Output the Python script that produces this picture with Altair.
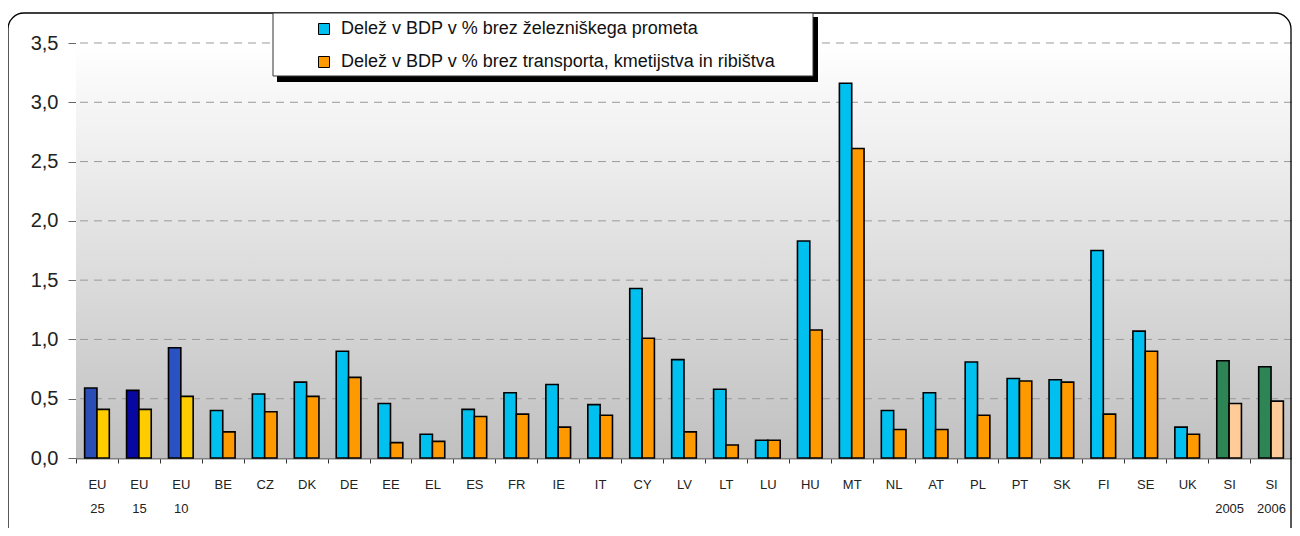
import altair as alt
import pandas as pd

# ---- data ----
categories = ["EU 25", "EU 15", "EU 10", "BE", "CZ", "DK", "DE", "EE", "EL", "ES",
              "FR", "IE", "IT", "CY", "LV", "LT", "LU", "HU", "MT", "NL", "AT",
              "PL", "PT", "SK", "FI", "SE", "UK", "SI 2005", "SI 2006"]
share_no_rail = [0.59, 0.57, 0.93, 0.40, 0.54, 0.64, 0.90, 0.46, 0.20, 0.41,
                 0.55, 0.62, 0.45, 1.43, 0.83, 0.58, 0.15, 1.83, 3.16, 0.40, 0.55,
                 0.81, 0.67, 0.66, 1.75, 1.07, 0.26, 0.82, 0.77]
share_no_transport = [0.41, 0.41, 0.52, 0.22, 0.39, 0.52, 0.68, 0.13, 0.14, 0.35,
                      0.37, 0.26, 0.36, 1.01, 0.22, 0.11, 0.15, 1.08, 2.61, 0.24, 0.24,
                      0.36, 0.65, 0.64, 0.37, 0.90, 0.20, 0.46, 0.48]
series_names = ["Delež v BDP v % brez železniškega prometa",
                "Delež v BDP v %  brez transporta, kmetijstva in ribištva"]
y_ticks = [0.0, 0.5, 1.0, 1.5, 2.0, 2.5, 3.0, 3.5]

color_domain = [series_names[0], series_names[1], "EU 25", "EU 15", "EU 10", "EU b", "SI a", "SI b"]
color_range = ["#00c0f0", "#ff9900", "#2a4db6", "#0808a0", "#2b52c2", "#ffcc00", "#2d8556", "#ffcc99"]


def color_key(cat, idx):
    if cat.startswith("EU"):
        return cat if idx == 0 else "EU b"
    if cat.startswith("SI"):
        return "SI a" if idx == 0 else "SI b"
    return series_names[idx]


rows = []
for c, a, b in zip(categories, share_no_rail, share_no_transport):
    rows.append({"cat": c, "series": series_names[0], "value": a, "key": color_key(c, 0)})
    rows.append({"cat": c, "series": series_names[1], "value": b, "key": color_key(c, 1)})
df = pd.DataFrame(rows)

W, H = 1216, 415
FONT = "Liberation Sans"

yscale = alt.Scale(domain=[0, 3.5], nice=False, zero=True)
yaxis = alt.Axis(values=y_ticks, title=None, grid=False,
                 labelExpr="replace(format(datum.value, '.1f'), '.', ',')",
                 labelFontSize=20, labelFont=FONT, labelColor="#222222", labelPadding=10,
                 tickSize=8, tickColor="#666666", domainColor="#808080", domainWidth=1)

one = pd.DataFrame({"a": [0]})

background = alt.Chart(one).mark_rect(
    color=alt.LinearGradient(gradient="linear", x1=0, x2=0, y1=0, y2=1,
                             stops=[alt.GradientStop(color="#ffffff", offset=0),
                                    alt.GradientStop(color="#c0c0c0", offset=1)])
).encode(x=alt.value(0), x2=alt.value(W), y=alt.value(0), y2=alt.value(H))

grid = alt.Chart(pd.DataFrame({"v": y_ticks[1:]})).mark_rule(
    color="#9a9a9a", strokeDash=[8, 6], strokeWidth=1
).encode(y=alt.Y("v:Q", scale=yscale, axis=yaxis))

bars = alt.Chart(df).mark_bar(stroke="black", strokeWidth=1.6).encode(
    x=alt.X("cat:N", sort=categories, scale=alt.Scale(paddingInner=0, paddingOuter=0),
            axis=alt.Axis(title=None, labelAngle=0, labelExpr="split(datum.label, ' ')",
                          labelFontSize=13, labelFont=FONT, labelColor="#222222",
                          labelLineHeight=24, labelPadding=15, labelOverlap=False,
                          tickBand="extent", tickSize=5, tickColor="#333333",
                          domainColor="#808080", domainWidth=2, grid=False)),
    xOffset=alt.XOffset("series:N", sort=series_names,
                        scale=alt.Scale(paddingOuter=0.7, paddingInner=0)),
    y=alt.Y("value:Q", scale=yscale, axis=yaxis),
    color=alt.Color("key:N", scale=alt.Scale(domain=color_domain, range=color_range),
                    legend=alt.Legend(values=series_names, title=None, orient="none",
                                      legendX=239, legendY=-23, direction="vertical",
                                      symbolType="square", symbolSize=121,
                                      symbolStrokeColor="black", symbolStrokeWidth=1,
                                      labelFontSize=18, labelFont=FONT, labelColor="#111111",
                                      labelLimit=800, rowPadding=15, labelOffset=8,
                                      padding=0)),
)

frame = alt.Chart(one).mark_rect(fill="transparent", stroke="black", strokeWidth=1.3,
                                 cornerRadius=16).encode(
    x=alt.value(-68), x2=alt.value(1215), y=alt.value(-30), y2=alt.value(500))

shadow = alt.Chart(one).mark_rect(color="black").encode(
    x=alt.value(201), x2=alt.value(742), y=alt.value(-26), y2=alt.value(39))

box = alt.Chart(one).mark_rect(fill="white", stroke="#333333", strokeWidth=1).encode(
    x=alt.value(197), x2=alt.value(737), y=alt.value(-30), y2=alt.value(33))

chart = alt.layer(background, grid, bars, frame, shadow, box).properties(
    width=W, height=H,
    autosize=alt.AutoSizeParams(type="none"),
    padding={"left": 68, "top": 35, "right": 0, "bottom": 70},
).configure_view(strokeWidth=0).resolve_scale(color="independent")

chart.save("out.html", embed_options={"renderer": "svg", "actions": False})
